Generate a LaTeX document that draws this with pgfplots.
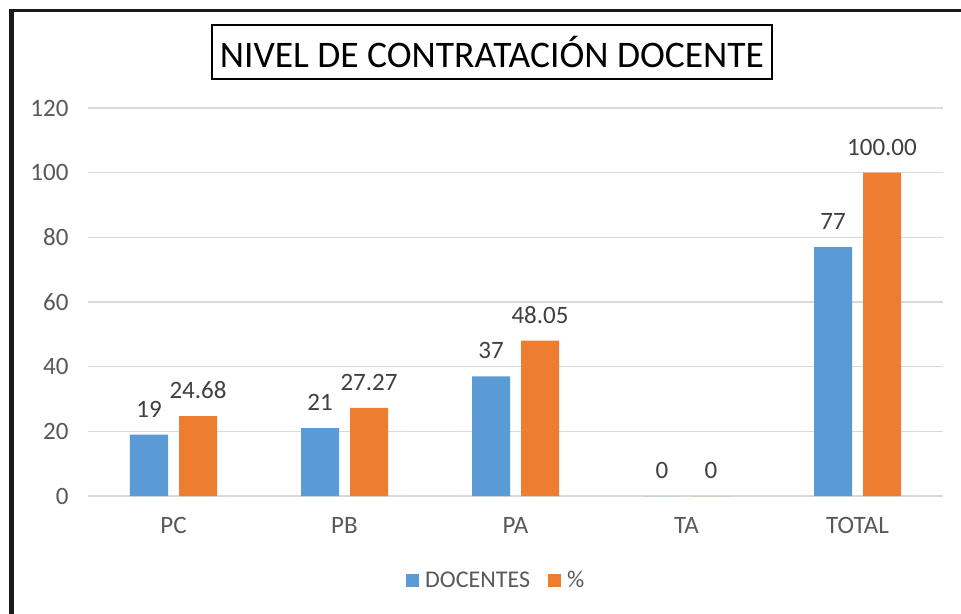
\documentclass[border=0pt]{standalone}
\usepackage{fontspec}
\setmainfont{Carlito}
\usepackage{pgfplots}
\pgfplotsset{compat=1.18}
\definecolor{myblue}{HTML}{5B9BD5}
\definecolor{myorange}{HTML}{ED7D31}
\definecolor{gridgray}{HTML}{D9D9D9}
\definecolor{labelgray}{HTML}{595959}
\definecolor{datagray}{HTML}{404040}
\definecolor{framec}{HTML}{1A1A1A}
\begin{document}
\begin{tikzpicture}
\path[use as bounding box] (0bp,0bp) rectangle (961bp,614bp);
\fill[white] (0bp,0bp) rectangle (961bp,614bp);
\draw[framec, line width=3.5bp] (9bp,603.5bp) -- (961bp,603.5bp);
\draw[framec, line width=4.5bp] (11.5bp,605.25bp) -- (11.5bp,0bp);
\begin{axis}[
  at={(88bp,118bp)}, anchor=south west,
  scale only axis, width=855bp, height=388bp,
  ybar=11bp, bar width=38bp,
  xmin=-0.5, xmax=4.5, ymin=0, ymax=120,
  xtick={0,1,2,3,4}, xticklabels={PC,PB,PA,TA,TOTAL},
  ytick={0,20,...,120},
  ymajorgrids, grid style={color=gridgray, line width=1.3bp},
  axis line style={draw=none}, major tick length=0pt,
  tick label style={font=\fontsize{25bp}{30bp}\selectfont, text=labelgray},
  /pgf/number format/assume math mode=true,
  xticklabel style={yshift=-18bp},
  yticklabel style={xshift=-16bp},
  nodes near coords, point meta=explicit symbolic,
  nodes near coords style={font=\fontsize{25bp}{30bp}\selectfont, text=datagray, anchor=south, inner sep=0pt, yshift=17bp},
  clip=false,
  legend columns=2,
  legend style={draw=none, fill=none, at={(0.478,-0.2165)}, anchor=center,
    font=\fontsize{24bp}{28bp}\selectfont, text=labelgray,
    /tikz/every even column/.append style={column sep=15bp},
    nodes={inner sep=3bp}},
  legend image code/.code={\fill[#1] (0bp,-6.5bp) rectangle (13bp,6.5bp); \path (16bp,0bp);},
]
\addplot[fill=myblue, draw=none] table[x=x, y=y, meta=lab] {
x y lab
0 19 19
1 21 21
2 37 37
3 0 0
4 77 77
};
\addplot[fill=myorange, draw=none] table[x=x, y=y, meta=lab] {
x y lab
0 24.68 24.68
1 27.27 27.27
2 48.05 48.05
3 0 0
4 100 100.00
};
\legend{DOCENTES,\%}
\end{axis}
\node[draw=black, line width=2.7bp, minimum width=560bp, minimum height=54bp, inner sep=0pt, font=\fontsize{37.5bp}{44bp}\selectfont] at (492bp,562bp) {NIVEL DE CONTRATACIÓN DOCENTE};
\end{tikzpicture}
\end{document}
